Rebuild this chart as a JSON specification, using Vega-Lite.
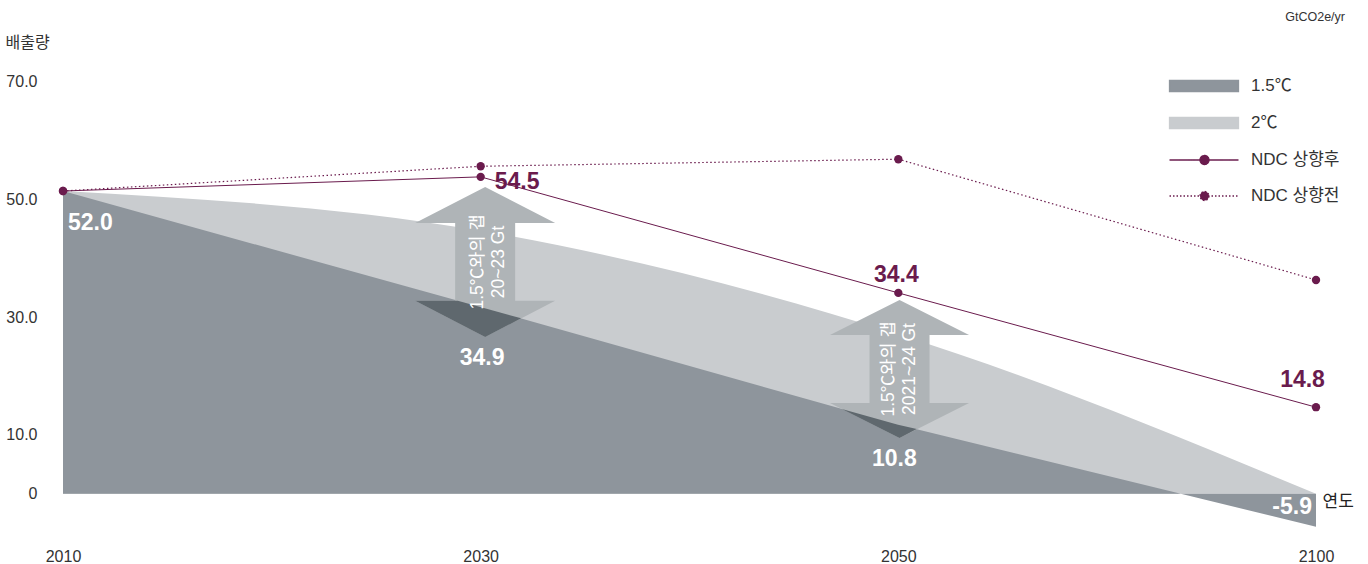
{
  "$schema": "https://vega.github.io/schema/vega-lite/v6.json",
  "width": 1253,
  "height": 483,
  "autosize": {"type": "none"},
  "padding": {"left": 63, "top": 52, "right": 52, "bottom": 29},
  "background": "white",
  "config": {"view": {"stroke": null}, "font": "Liberation Sans, Noto Sans CJK KR, sans-serif"},
  "title": {"text": "GtCO2e/yr", "anchor": "end", "frame": "group", "dx": 29, "offset": 5, "baseline": "middle", "fontSize": 12.5, "fontWeight": "normal", "color": "#333333", "font": "Liberation Sans, sans-serif"},
  "datasets": {
    "series": [
      {"year": "2010", "series": "1.5℃", "value": 51.4, "label": "52.0"},
      {"year": "2030", "series": "1.5℃", "value": 31.7, "label": "34.9"},
      {"year": "2050", "series": "1.5℃", "value": 11.7, "label": "10.8"},
      {"year": "2100", "series": "1.5℃", "value": -5.6, "label": "-5.9"},
      {"year": "2010", "series": "2℃", "value": 51.4, "label": ""},
      {"year": "2030", "series": "2℃", "value": 44.65, "label": ""},
      {"year": "2050", "series": "2℃", "value": 27.1, "label": ""},
      {"year": "2100", "series": "2℃", "value": 0, "label": ""},
      {"year": "2010", "series": "NDC 상향후", "value": 51.4, "label": ""},
      {"year": "2030", "series": "NDC 상향후", "value": 53.8, "label": "54.5"},
      {"year": "2050", "series": "NDC 상향후", "value": 34.1, "label": "34.4"},
      {"year": "2100", "series": "NDC 상향후", "value": 14.7, "label": "14.8"},
      {"year": "2010", "series": "NDC 상향전", "value": 51.4, "label": ""},
      {"year": "2030", "series": "NDC 상향전", "value": 55.6, "label": ""},
      {"year": "2050", "series": "NDC 상향전", "value": 56.8, "label": ""},
      {"year": "2100", "series": "NDC 상향전", "value": 36.3, "label": ""}
    ],
    "gaps": [
      {"year": "2030", "value": 39.35, "text": "1.5℃와의 갭\n20~23 Gt"},
      {"year": "2050", "value": 21.18, "text": "1.5℃와의 갭\n2021~24 Gt"}
    ]
  },
  "data": {"name": "series"},
  "encoding": {
    "x": {
      "field": "year", "type": "ordinal",
      "scale": {"type": "point", "padding": 0, "domain": ["2010", "2030", "2050", "2100"]},
      "axis": {"labelAngle": 0, "labelPadding": 13, "labelFontSize": 16, "labelColor": "#333333", "ticks": false, "domain": false, "grid": false,
        "title": "연도", "titleAngle": 0, "titleX": 1259, "titleY": -34, "titleAlign": "left", "titleBaseline": "middle", "titleFontSize": 17, "titleFontWeight": "normal", "titleColor": "#222222"}
    },
    "y": {
      "field": "value", "type": "quantitative",
      "scale": {"domain": [-7, 75], "nice": false, "zero": false},
      "axis": {"values": [0, 10, 30, 50, 70], "labelExpr": "datum.value === 0 ? '0' : format(datum.value, '.1f')", "grid": false, "ticks": false, "domain": false, "labelPadding": 26, "labelFontSize": 16, "labelColor": "#333333",
        "title": "배출량", "titleAngle": 0, "titleX": -58, "titleY": -10, "titleAlign": "left", "titleBaseline": "middle", "titleFontSize": 16, "titleFontWeight": "normal", "titleColor": "#333333"}
    }
  },
  "layer": [
    {
      "transform": [{"filter": "datum.series === '2℃'"}],
      "mark": {"type": "area", "interpolate": "monotone", "opacity": 1},
      "encoding": {
        "y2": {"datum": 0},
        "color": {"field": "series", "type": "nominal",
          "scale": {"domain": ["1.5℃", "2℃", "NDC 상향후", "NDC 상향전"], "range": ["#8e959c", "#c9cccf", "#6a1b4d", "#6a1b4d"]},
          "legend": {"orient": "none", "legendX": 1106, "legendY": 16, "title": null, "padding": 0, "symbolSize": 1156, "symbolStrokeWidth": 1.3, "symbolOpacity": 1, "labelOffset": 46, "rowPadding": 10, "labelFontSize": 17, "labelColor": "#333333", "labelFont": "Liberation Sans, Noto Sans CJK KR, sans-serif",
            "symbolType": {"expr": "datum.value === '1.5℃' || datum.value === '2℃' ? 'M-1.029,-0.3235L3.029,-0.3235L3.029,0.3235L-1.029,0.3235Z' : 'M-1.029,0L3.029,0M1.294,0A0.265,0.265,0,1,1,0.764,0A0.265,0.265,0,1,1,1.294,0Z'"},
            "symbolFillColor": {"expr": "datum.value === '1.5℃' ? '#8e959c' : datum.value === '2℃' ? '#c9cccf' : '#6a1b4d'"},
            "symbolStrokeColor": {"expr": "datum.value === '1.5℃' || datum.value === '2℃' ? 'transparent' : '#6a1b4d'"},
            "symbolDash": {"expr": "datum.value === 'NDC 상향전' ? [1.5, 2] : [1, 0]"}
          }
        }
      }
    },
    {
      "transform": [{"filter": "datum.series === '1.5℃'"}],
      "mark": {"type": "area", "opacity": 1},
      "encoding": {
        "y2": {"datum": 0},
        "color": {"field": "series", "type": "nominal",
          "scale": {"domain": ["1.5℃", "2℃", "NDC 상향후", "NDC 상향전"], "range": ["#8e959c", "#c9cccf", "#6a1b4d", "#6a1b4d"]}}
      }
    },
    {
      "data": {"name": "gaps"},
      "transform": [{"filter": "datum.year === '2030'"}],
      "mark": {"type": "point", "shape": "M0,-1L0.933,-0.52L0.4,-0.52L0.4,0.516L0.933,0.516L0,1L-0.933,0.516L-0.4,0.516L-0.4,-0.52L-0.933,-0.52Z", "size": 22500, "filled": true, "color": "#afb4b7", "opacity": 1, "strokeWidth": 0, "xOffset": 4.5}
    },
    {
      "data": {"name": "gaps"},
      "transform": [{"filter": "datum.year === '2050'"}],
      "mark": {"type": "point", "shape": "M0,-0.92L0.927,-0.453L0.4,-0.453L0.4,0.453L0.927,0.453L0,0.92L-0.927,0.453L-0.4,0.453L-0.4,-0.453L-0.927,-0.453Z", "size": 22500, "filled": true, "color": "#afb4b7", "opacity": 1, "strokeWidth": 0, "xOffset": 1.2}
    },
    {
      "data": {"name": "gaps"},
      "transform": [{"filter": "datum.year === '2030'"}],
      "mark": {"type": "point", "shape": "M-0.933,0.516L-0.365,0.516L0.48,0.751L0,1Z", "size": 22500, "filled": true, "color": "#5f686e", "opacity": 1, "strokeWidth": 0, "xOffset": 4.5}
    },
    {
      "data": {"name": "gaps"},
      "transform": [{"filter": "datum.year === '2050'"}],
      "mark": {"type": "point", "shape": "M-0.769,0.532L-0.02,0.744L0.229,0.8L0,0.92Z", "size": 22500, "filled": true, "color": "#5f686e", "opacity": 1, "strokeWidth": 0, "xOffset": 1.2}
    },
    {
      "data": {"name": "gaps"},
      "transform": [{"filter": "datum.year === '2030'"}],
      "mark": {"type": "text", "angle": 270, "lineBreak": "\n", "lineHeight": 21, "fontSize": 17.5, "font": "Liberation Sans, Noto Sans CJK KR, sans-serif", "color": "white", "align": "center", "baseline": "middle", "xOffset": -2.5},
      "encoding": {"text": {"field": "text"}}
    },
    {
      "data": {"name": "gaps"},
      "transform": [{"filter": "datum.year === '2050'"}],
      "mark": {"type": "text", "angle": 270, "lineBreak": "\n", "lineHeight": 21, "fontSize": 17.5, "font": "Liberation Sans, Noto Sans CJK KR, sans-serif", "color": "white", "align": "center", "baseline": "middle", "xOffset": -9},
      "encoding": {"text": {"field": "text"}}
    },
    {
      "transform": [{"filter": "datum.series === 'NDC 상향후'"}],
      "mark": {"type": "line", "strokeWidth": 1},
      "encoding": {
        "color": {"field": "series", "type": "nominal",
          "scale": {"domain": ["1.5℃", "2℃", "NDC 상향후", "NDC 상향전"], "range": ["#8e959c", "#c9cccf", "#6a1b4d", "#6a1b4d"]}}
      }
    },
    {
      "transform": [{"filter": "datum.series === 'NDC 상향전'"}],
      "mark": {"type": "line", "strokeWidth": 1.2, "strokeDash": [1.5, 2.5]},
      "encoding": {
        "color": {"field": "series", "type": "nominal",
          "scale": {"domain": ["1.5℃", "2℃", "NDC 상향후", "NDC 상향전"], "range": ["#8e959c", "#c9cccf", "#6a1b4d", "#6a1b4d"]}}
      }
    },
    {
      "transform": [{"filter": "datum.series === 'NDC 상향후' || datum.series === 'NDC 상향전'"}],
      "mark": {"type": "point", "filled": true, "size": 70, "opacity": 1},
      "encoding": {
        "color": {"field": "series", "type": "nominal",
          "scale": {"domain": ["1.5℃", "2℃", "NDC 상향후", "NDC 상향전"], "range": ["#8e959c", "#c9cccf", "#6a1b4d", "#6a1b4d"]}}
      }
    },
    {
      "transform": [{"filter": "datum.series === '1.5℃' && datum.year === '2010'"}],
      "mark": {"type": "text", "font": "Liberation Sans, sans-serif", "fontSize": 23, "fontWeight": "bold", "color": "white", "align": "left", "baseline": "middle", "dx": 5, "dy": 32},
      "encoding": {"text": {"field": "label"}}
    },
    {
      "transform": [{"filter": "datum.series === '1.5℃' && datum.year === '2030'"}],
      "mark": {"type": "text", "font": "Liberation Sans, sans-serif", "fontSize": 23, "fontWeight": "bold", "color": "white", "align": "center", "baseline": "middle", "dx": 1.5, "dy": 51},
      "encoding": {"text": {"field": "label"}}
    },
    {
      "transform": [{"filter": "datum.series === '1.5℃' && datum.year === '2050'"}],
      "mark": {"type": "text", "font": "Liberation Sans, sans-serif", "fontSize": 23, "fontWeight": "bold", "color": "white", "align": "center", "baseline": "middle", "dx": -4, "dy": 34},
      "encoding": {"text": {"field": "label"}}
    },
    {
      "transform": [{"filter": "datum.series === '1.5℃' && datum.year === '2100'"}],
      "mark": {"type": "text", "font": "Liberation Sans, sans-serif", "fontSize": 23, "fontWeight": "bold", "color": "white", "align": "right", "baseline": "middle", "dx": -4, "dy": -20},
      "encoding": {"text": {"field": "label"}}
    },
    {
      "transform": [{"filter": "datum.series === 'NDC 상향후' && datum.year === '2030'"}],
      "mark": {"type": "text", "font": "Liberation Sans, sans-serif", "fontSize": 23, "fontWeight": "bold", "color": "#6a1b4d", "align": "left", "baseline": "middle", "dx": 14, "dy": 5},
      "encoding": {"text": {"field": "label"}}
    },
    {
      "transform": [{"filter": "datum.series === 'NDC 상향후' && datum.year === '2050'"}],
      "mark": {"type": "text", "font": "Liberation Sans, sans-serif", "fontSize": 23, "fontWeight": "bold", "color": "#6a1b4d", "align": "center", "baseline": "middle", "dx": -2, "dy": -18},
      "encoding": {"text": {"field": "label"}}
    },
    {
      "transform": [{"filter": "datum.series === 'NDC 상향후' && datum.year === '2100'"}],
      "mark": {"type": "text", "font": "Liberation Sans, sans-serif", "fontSize": 23, "fontWeight": "bold", "color": "#6a1b4d", "align": "center", "baseline": "middle", "dx": -13.5, "dy": -27},
      "encoding": {"text": {"field": "label"}}
    }
  ]
}
